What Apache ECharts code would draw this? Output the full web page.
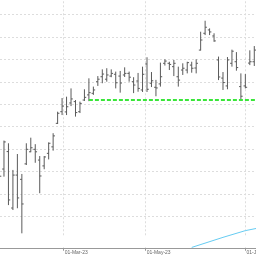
<!DOCTYPE html>
<html>
<head>
<meta charset="utf-8">
<script src="https://cdn.jsdelivr.net/npm/echarts@6/dist/echarts.min.js"></script>
<style>html,body{margin:0;padding:0;background:#fff}#c{width:256px;height:256px}</style>
</head>
<body>
<div id="c"></div>
<script>
// bar index (position on the trading axis)
const barIndex = [0,1,2,3,4,5,6,7,8,9,10,11,12,13,14,15,16,17,18,19,20,21,22,23,24,25,26,27,28,29,30,31,32,33,34,35,36,37,38,39,40,41,42,43,44,45,46,47,48,49,50,51,52,53,54,55,56,57];
const opens  = [121.0,121.1,128.9,103.7,118.4,116.5,123.4,128.8,129.9,125.1,122.5,128.1,131.0,141.5,146.7,146.6,150.6,151.2,146.7,151.9,154.2,154.9,160.1,162.3,161.2,162.6,163.4,162.6,163.1,163.8,160.1,160.4,156.4,168.0,159.4,157.6,159.1,168.3,168.3,166.8,162.3,165.3,165.3,167.5,166.2,174.2,181.7,183.2,180.5,169.8,161.7,158.2,168.3,169.0,157.9,158.2,168.4,169.0];
const closes = [117.9,133.2,107.3,118.4,108.2,105.5,129.9,130.6,128.8,118.0,126.5,132.6,135.9,146.0,149.2,148.9,152.4,146.3,150.4,153.1,155.2,156.4,161.2,163.5,163.1,163.8,159.6,159.5,163.8,162.1,158.6,157.1,163.4,156.7,160.5,157.3,162.3,169.3,167.8,168.3,160.8,166.1,168.6,166.1,168.3,178.7,184.4,182.3,178.3,162.2,159.7,169.8,173.7,166.4,153.6,157.6,169.0,174.2];
const lows   = [114.0,117.7,105.0,102.8,103.6,92.4,122.9,128.6,123.9,110.3,121.0,125.4,129.3,141.2,145.2,145.2,149.2,144.5,146.1,151.5,151.4,154.2,158.2,159.4,160.1,162.1,157.1,155.2,162.2,160.1,155.0,155.6,155.5,155.5,157.7,153.6,157.9,167.3,165.3,162.6,157.9,163.1,163.8,164.1,163.8,174.0,180.9,180.9,177.9,160.8,156.4,156.7,166.8,165.0,151.9,157.1,167.5,167.1];
const highs  = [124.0,133.8,132.6,120.7,127.8,118.9,132.6,135.1,132.2,126.9,126.9,133.0,137.1,146.7,152.8,153.4,157.1,151.9,151.2,156.7,161.6,157.9,162.6,165.6,166.1,165.6,164.6,164.9,166.5,164.6,162.1,164.0,166.8,171.0,164.4,160.9,168.6,170.1,169.0,169.8,166.8,168.3,169.0,169.0,170.1,182.4,187.3,183.9,181.7,171.3,164.4,171.1,174.4,173.3,163.8,163.5,174.1,176.0];
// horizontal support level (green dashed)
const levelStart = 20, levelEnd = 58, levelValue = 151.9;
// light blue indicator line
const blueX = [43, 50, 55, 58];
const blueY = [86.1, 90.6, 93.6, 94.8];
// x axis tick labels and their positions (in bar-index units)
const tickPos = [14.36, 32.71, 55.03];
const tickLabels = ['01-Mar-23', '01-May-23', '01-Jul-23'];

const ohlc = barIndex.map((j, i) => [j, opens[i], closes[i], lows[i], highs[i]]);
const levelData = [[levelStart, levelValue], [levelEnd, levelValue]];
const blueData = blueX.map((x, i) => [x, blueY[i]]);

const chart = echarts.init(document.getElementById('c'), null, {renderer: 'canvas'});
const barColor = '#5a5a5a';
chart.setOption({
  animation: false,
  backgroundColor: '#ffffff',
  grid: {left: 0, right: 0, top: 1.26, bottom: 19.54, containLabel: false, outerBoundsMode: 'none'},
  xAxis: {
    type: 'value',
    min: 0.1119, max: 57.383,
    offset: 11.3,
    axisLine: {show: true, lineStyle: {color: '#999999', width: 1}},
    axisTick: {show: true, length: 3, customValues: tickPos, lineStyle: {color: '#999999'}},
    axisLabel: {
      show: true, customValues: tickPos, align: 'left', margin: 2,
      fontSize: 5, color: '#666666', fontFamily: 'Liberation Sans', padding: [0,0,0,1],
      hideOverlap: false,
      formatter: function (v) {
        let best = 0;
        for (let k = 0; k < tickPos.length; k++) if (Math.abs(tickPos[k] - v) < Math.abs(tickPos[best] - v)) best = k;
        return tickLabels[best];
      }
    },
    splitLine: {show: true, lineStyle: {color: '#dddddd', type: [2, 2], width: 1}}
  },
  yAxis: {
    type: 'value', min: 91, max: 196, minInterval: 10, maxInterval: 10, splitNumber: 10,
    axisLine: {show: false}, axisTick: {show: false}, axisLabel: {show: false},
    splitLine: {show: true, showMinLine: false, showMaxLine: false, lineStyle: {color: '#dddddd', type: [2, 2], width: 1}}
  },
  series: [
    {
      type: 'custom',
      data: ohlc,
      encode: {x: 0, y: [1, 2, 3, 4]},
      renderItem: function (params, api) {
        const x = api.value(0);
        const o = api.coord([x, api.value(1)]);
        const c = api.coord([x, api.value(2)]);
        const l = api.coord([x, api.value(3)]);
        const h = api.coord([x, api.value(4)]);
        const w = 1.8;
        const st = {stroke: barColor, lineWidth: 1};
        return {type: 'group', children: [
          {type: 'line', shape: {x1: h[0], y1: h[1], x2: l[0], y2: l[1]}, style: st},
          {type: 'line', shape: {x1: o[0] - w, y1: o[1], x2: o[0], y2: o[1]}, style: st},
          {type: 'line', shape: {x1: c[0], y1: c[1], x2: c[0] + w, y2: c[1]}, style: st}
        ]};
      }
    },
    {
      type: 'line', data: levelData, symbol: 'none',
      lineStyle: {color: '#39e639', width: 2, type: [4, 2]}
    },
    {
      type: 'line', data: blueData, symbol: 'none', clip: false,
      lineStyle: {color: '#66ccf2', width: 1}
    }
  ]
});
</script>
</body>
</html>
